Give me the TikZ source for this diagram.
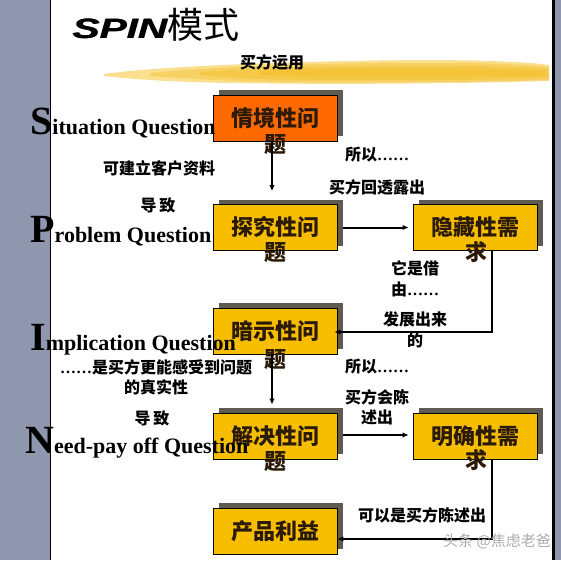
\documentclass[tikz,border=0pt]{standalone}
\usepackage{fontspec}
\setmainfont{Liberation Serif}
\newfontfamily\cjk{Noto Sans CJK SC}
\newfontfamily\titlefont{Liberation Sans}
\newfontfamily\lserif{Liberation Serif}
\usetikzlibrary{arrows.meta,shadows}
\definecolor{bggray}{HTML}{8E97AE}
\definecolor{orangebox}{HTML}{FF6A00}
\definecolor{yellowbox}{HTML}{F7BE00}
\definecolor{shadowc}{HTML}{5F5A52}
\definecolor{boxtext}{HTML}{2B1A05}
\definecolor{brushA}{HTML}{F9D873}
\definecolor{brushB}{HTML}{F3B916}
\newcommand\dotsx{{\lserif\bfseries ……}}
\newcommand\spinword{\scalebox{1.45}[1]{\titlefont\bfseries\itshape\fontsize{28}{28}\selectfont SPIN}}
\begin{document}
\begin{tikzpicture}[x=1pt,y=-1pt,
  qbox/.style={draw=black, line width=0.8pt, minimum width=124pt, minimum height=46pt,
    inner sep=0pt, text=boxtext, font=\cjk\bfseries\fontsize{22}{22}\selectfont,
    drop shadow={shadow xshift=6pt, shadow yshift=5pt, fill=shadowc, opacity=1}},
  ybox/.style={qbox, fill=yellowbox},
  tail/.style={inner sep=0pt, text=boxtext, font=\cjk\bfseries\fontsize{22}{22}\selectfont},
  lbl/.style={inner sep=0pt, align=center, font=\cjk\bfseries\fontsize{16}{21}\selectfont},
  qlbl/.style={inner sep=0pt, anchor=base west, font=\lserif\bfseries\fontsize{22}{22}\selectfont},
  arr/.style={line width=2pt, -{Latex[length=6pt,width=5.5pt]}}]
\useasboundingbox (0,0) rectangle (561,560);
% background
\fill[bggray] (0,0) rectangle (561,560);
\fill[white] (50,0) rectangle (552,560);
\draw[line width=0.8pt] (50,0) -- (50,560);
\draw[line width=3pt] (553.5,0) -- (553.5,560);
% brush stroke (layered soft strokes)
\fill[brushA, opacity=0.8] (104,74) .. controls (160,66) and (300,61) .. (420,60)
  .. controls (480,60) and (530,62) .. (549,65) -- (549,81)
  .. controls (480,83) and (350,85) .. (230,83) .. controls (170,82) and (130,79) .. (104,76) -- cycle;
\fill[brushB, opacity=0.35] (150,73) .. controls (240,64) and (380,62) .. (470,63)
  .. controls (510,64) and (535,65) .. (549,67) -- (549,80)
  .. controls (500,82) and (380,83) .. (280,82) .. controls (220,81) and (180,78) .. (150,76) -- cycle;
\fill[brushB, opacity=0.35] (200,72) .. controls (280,66) and (390,65) .. (480,66)
  .. controls (515,67) and (535,68) .. (548,69) -- (548,78)
  .. controls (500,80) and (390,81) .. (300,80) .. controls (250,79) and (220,77) .. (200,75) -- cycle;
\fill[brushB, opacity=0.3] (260,71) .. controls (330,68) and (430,68) .. (545,71) -- (545,76) .. controls (430,77) and (330,77) .. (260,75) -- cycle;
% title
\node[inner sep=0pt, anchor=base west] (title) at (72,38)
  {\rlap{\spinword}\hspace{0.8pt}\spinword{\cjk\fontsize{36}{36}\selectfont 模式}};
\node[lbl] (use) at (272,62) {买方运用};
% boxes
\node[qbox, fill=orangebox] (s) at (275,118) {情境性问};
\node[ybox] (p) at (275,227.5) {探究性问};
\node[ybox] (h) at (475,227.5) {隐藏性需};
\node[ybox] (i) at (275,331) {暗示性问};
\node[ybox] (n) at (275,436) {解决性问};
\node[ybox] (m) at (475,436) {明确性需};
\node[ybox] (b) at (275,531) {产品利益};
% overflowing last characters
\node[tail] (st) at (275,145) {题};
\node[tail] (pt) at (275,253) {题};
\node[tail] (ht) at (476,252) {求};
\node[tail] (it) at (275,360) {题};
\node[tail] (nt) at (275,462) {题};
\node[tail] (mt) at (476,460) {求};
% connectors
\draw[arr, shorten >=13pt] ([xshift=-3pt]s.south) -- ([xshift=-3pt]p.north);
\draw[arr, shorten <=6pt, shorten >=4pt] (p.east) -- (h.west);
\draw[arr, shorten >=-3pt] ([xshift=17pt]h.south) |- ([yshift=-1pt]i.east);
\draw[arr, shorten >=8pt] ([xshift=-3pt]i.south) -- ([xshift=-3pt]n.north);
\draw[arr, shorten <=6pt, shorten >=4pt] ([yshift=1pt]n.east) -- ([yshift=1pt]m.west);
\draw[arr] ([xshift=17pt]m.south) |- ([yshift=-8pt]b.east);
% labels
\node[lbl] (l1) at (159,168) {可建立客户资料};
\node[lbl] (l2) at (158,205) {导\,致};
\node[lbl] (l3) at (377,155) {所以\dotsx};
\node[lbl] (l4) at (377,187) {买方回透露出};
\node[lbl] (l5) at (415,279) {它是借\\由\dotsx};
\node[lbl] (l6) at (415,330) {发展出来\\的};
\node[lbl, font=\cjk\bfseries\fontsize{16}{20}\selectfont] (l7) at (156,377) {\dotsx 是买方更能感受到问题\\的真实性};
\node[lbl] (l8) at (377,367) {所以\dotsx};
\node[lbl, font=\cjk\bfseries\fontsize{16}{20}\selectfont] (l9) at (377,407) {买方会陈\\述出};
\node[lbl] (l10) at (152,418) {导\,致};
\node[lbl] (l11) at (422,515) {可以是买方陈述出};
\node[inner sep=0pt, text=gray!65, font=\cjk\fontsize{15}{15}\selectfont] (wm) at (497,541) {头条 @焦虑老爸};
% SPIN question labels
\node[qlbl] (qs) at (30,134) {{\fontsize{40}{40}\selectfont S}ituation Question};
\node[qlbl] (qp) at (30,242) {{\fontsize{40}{40}\selectfont P}roblem Question};
\node[qlbl] (qi) at (30,350) {{\fontsize{40}{40}\selectfont I}mplication Question};
\node[qlbl] (qn) at (25,453) {{\fontsize{40}{40}\selectfont N}eed-pay off Question};
\end{tikzpicture}
\end{document}
